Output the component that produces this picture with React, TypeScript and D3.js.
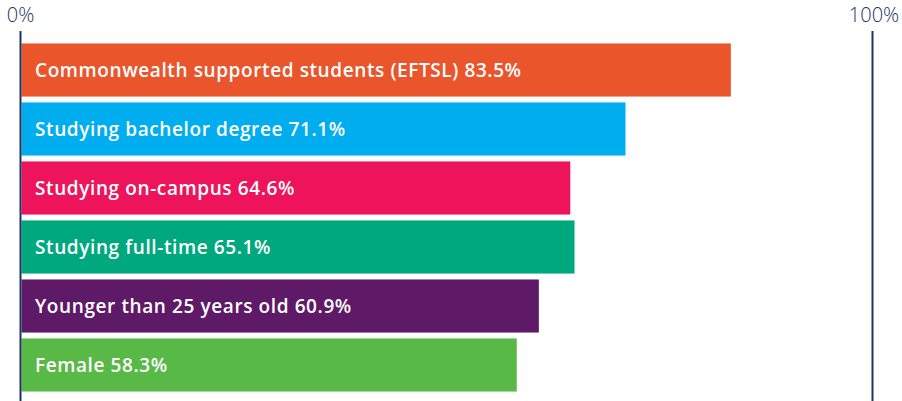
import * as d3 from 'd3';
import React from 'react';

const labels = [
  'Commonwealth supported students (EFTSL)',
  'Studying bachelor degree',
  'Studying on-campus',
  'Studying full-time',
  'Younger than 25 years old',
  'Female',
];
const values = [83.5, 71.1, 64.6, 65.1, 60.9, 58.3];
const colors = ['#eb552b', '#00aeef', '#ed145b', '#00a87e', '#5f1a67', '#58b947'];
const ticks = [0, 100];

const width = 902;
const height = 401;
const axisColor = '#1c3561';

export default function App() {
  const x = d3.scaleLinear().domain([0, 100]).range([21.5, 871]);
  const y = d3
    .scaleBand<number>()
    .domain(d3.range(labels.length))
    .range([40.5, 394.5])
    .paddingInner(0.1)
    .paddingOuter(0.05);

  return (
    <svg
      width={width}
      height={height}
      style={{ position: 'absolute', left: 0, top: 0 }}
      fontFamily="'Open Sans', sans-serif"
    >
      {labels.map((label, i) => (
        <g key={label}>
          <rect
            x={x(0)}
            y={y(i)}
            width={x(values[i]) - x(0)}
            height={y.bandwidth()}
            fill={colors[i]}
          />
          <text
            x={35}
            y={(y(i) as number) + y.bandwidth() / 2 + 7}
            fill="#fff"
            fontSize={19}
            fontWeight={600}
            letterSpacing={0.6}
          >
            {`${label} ${values[i]}%`}
          </text>
        </g>
      ))}
      {ticks.map((t) => (
        <g key={t}>
          <line
            x1={x(t) + (t === 0 ? -1 : 1.5)}
            x2={x(t) + (t === 0 ? -1 : 1.5)}
            y1={31}
            y2={height}
            stroke={axisColor}
            strokeWidth={2}
          />
          <text
            x={x(t) + (t === 0 ? -1 : 3)}
            y={22}
            textAnchor="middle"
            fill={axisColor}
            fontSize={20}
            fontWeight={300}
          >
            {`${t}%`}
          </text>
        </g>
      ))}
    </svg>
  );
}
